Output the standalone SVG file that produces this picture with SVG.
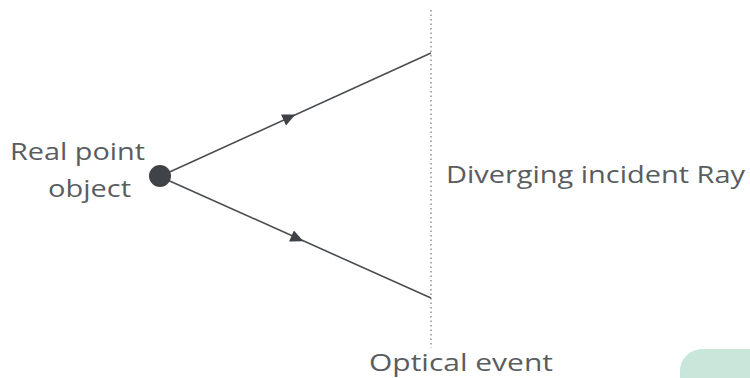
<svg xmlns="http://www.w3.org/2000/svg" xmlns:xlink="http://www.w3.org/1999/xlink" width="750" height="378" viewBox="0 0 750 378">
<style>
.t{font-family:"Open Sans","Liberation Sans",sans-serif;font-size:24px;fill:#5a5d60}
.ray{stroke:#4a4d50;stroke-width:1.6;fill:none}
.dot{stroke:#777;stroke-width:1.2;stroke-dasharray:1.5 3;fill:none}
</style>
<defs>
<path id="ah" d="M7,0 L-6,-6 L-6,6 Z" fill="#3f4347"/>
</defs>
<rect width="750" height="378" fill="#ffffff"/>
<rect x="680" y="349" width="120" height="80" rx="22" fill="#c8e6da"/>
<g id="connectors">
<line class="dot" x1="431" y1="10" x2="431" y2="348"/>
<line class="ray" x1="163" y1="175" x2="431" y2="53"/>
<line class="ray" x1="163" y1="178" x2="431" y2="298"/>
<use xlink:href="#ah" transform="translate(289,117.5) rotate(-24.5)"/>
<use xlink:href="#ah" transform="translate(297,238.5) rotate(23.9)"/>
</g>
<g id="object">
<circle cx="160" cy="176" r="11" fill="#3f4347"/>
<text class="t" x="10" y="160" textLength="135" lengthAdjust="spacingAndGlyphs">Real point</text>
<text class="t" x="48" y="197" textLength="83" lengthAdjust="spacingAndGlyphs">object</text>
</g>
<g id="ray-label">
<text class="t" x="446" y="183" textLength="299" lengthAdjust="spacingAndGlyphs">Diverging incident Ray</text>
</g>
<g id="event-label">
<text class="t" x="369" y="371" textLength="184" lengthAdjust="spacingAndGlyphs">Optical event</text>
</g>
</svg>
